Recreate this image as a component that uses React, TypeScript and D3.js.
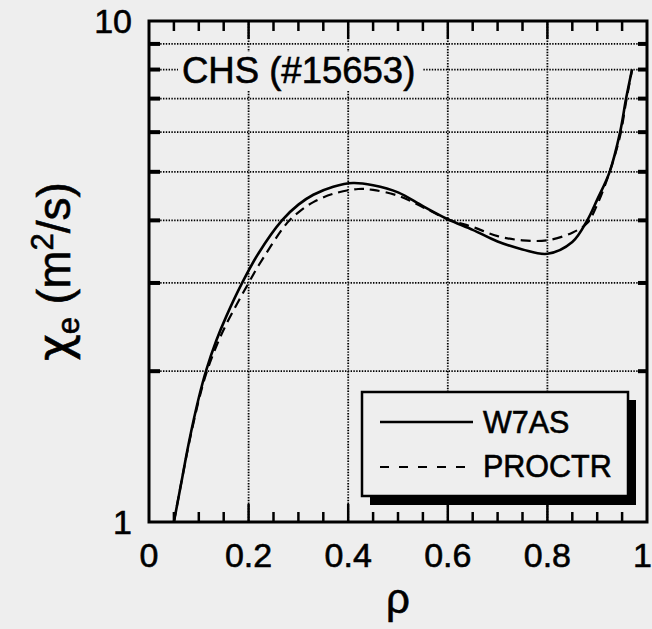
import React from "react";
import * as d3 from "d3";

const rhoW7AS = [0.05, 0.065, 0.08, 0.1, 0.115, 0.135, 0.155, 0.187, 0.22, 0.267, 0.3, 0.33, 0.37, 0.41, 0.45, 0.5, 0.55, 0.6, 0.65, 0.7, 0.75, 0.8, 0.85, 0.88, 0.9, 0.925, 0.946, 0.958, 0.97];
const chiW7AS = [1.0, 1.2, 1.44, 1.77, 2.01, 2.3, 2.57, 3.0, 3.44, 4.0, 4.3, 4.5, 4.67, 4.75, 4.7, 4.55, 4.27, 4.02, 3.83, 3.63, 3.5, 3.43, 3.62, 4.0, 4.4, 5.0, 6.0, 7.0, 8.0];
const rhoPROCTR = [0.05, 0.065, 0.08, 0.1, 0.115, 0.135, 0.155, 0.2, 0.22, 0.277, 0.3, 0.33, 0.37, 0.42, 0.45, 0.5, 0.55, 0.6, 0.65, 0.7, 0.75, 0.8, 0.85, 0.88, 0.9, 0.925, 0.946, 0.958, 0.97];
const chiPROCTR = [1.0, 1.2, 1.43, 1.75, 1.98, 2.24, 2.48, 3.0, 3.25, 3.95, 4.15, 4.35, 4.52, 4.62, 4.6, 4.48, 4.25, 4.02, 3.88, 3.72, 3.65, 3.65, 3.78, 3.95, 4.3, 5.0, 5.9, 6.9, 8.0];

const xTickLabels = ["0", "0.2", "0.4", "0.6", "0.8", "1"];
const xTickValues = [0, 0.2, 0.4, 0.6, 0.8, 1];
const yTickLabels = ["1", "10"];
const yTickValues = [1, 10];
const yGridValues = [2, 3, 4, 5, 6, 7, 8, 9];
const xGridValues = [0.2, 0.4, 0.6, 0.8];
const seriesNames = ["W7AS", "PROCTR"];
const title = "CHS (#15653)";

const W = 652, H = 629;
const L = 149, R = 647, T = 21, B = 522;
const FONT = "'Liberation Sans', Arial, Helvetica, sans-serif";
const BG = "#eeeeee";
const TS = { stroke: "#000", strokeWidth: 0.6 };

export default function App() {
  const x = d3.scaleLinear().domain([0, 1]).range([L, R]);
  const y = d3.scaleLog().domain([1, 10]).range([B, T]);
  const line = d3.line<[number, number]>().x(d => x(d[0])).y(d => y(d[1])).curve(d3.curveCatmullRom.alpha(0.5));
  const w7 = line(rhoW7AS.map((r, i) => [r, chiW7AS[i]]) as [number, number][]) || "";
  const pr = line(rhoPROCTR.map((r, i) => [r, chiPROCTR[i]]) as [number, number][]) || "";
  const minor = d3.range(1, 20).map(i => i * 0.05);

  return (
    <svg width={W} height={H} style={{ position: "absolute", left: 0, top: 0 }} fontFamily={FONT}>
      <rect x={0} y={0} width={W} height={H} fill={BG} />
      {/* grid */}
      {xGridValues.map(v => (
        <line key={"gx" + v} x1={x(v)} x2={x(v)} y1={T} y2={B} stroke="#000" strokeWidth={1.8} strokeDasharray="1.4 1.4" />
      ))}
      {yGridValues.map(v => (
        <line key={"gy" + v} x1={L} x2={R} y1={y(v)} y2={y(v)} stroke="#000" strokeWidth={1.8} strokeDasharray="1.4 1.4" />
      ))}
      {/* title box */}
      <rect x={178} y={52} width={244} height={38} fill={BG} />
      <text x={182} y={83} fontSize={36.5} fill="#000" {...TS}>{title}</text>
      {/* ticks bottom/top */}
      {minor.map(v => {
        const major = Math.abs(v / 0.2 - Math.round(v / 0.2)) < 1e-6;
        const len = major ? 18 : 10;
        return (
          <g key={"t" + v}>
            <line x1={x(v)} x2={x(v)} y1={B} y2={B - len} stroke="#000" strokeWidth={2.5} />
            <line x1={x(v)} x2={x(v)} y1={T} y2={T + len} stroke="#000" strokeWidth={2.5} />
          </g>
        );
      })}
      {yGridValues.map(v => (
        <g key={"yt" + v}>
          <line x1={L} x2={L + 11} y1={y(v)} y2={y(v)} stroke="#000" strokeWidth={4} />
          <line x1={R} x2={R - 9} y1={y(v)} y2={y(v)} stroke="#000" strokeWidth={4} />
        </g>
      ))}
      {/* curves */}
      <path d={w7} fill="none" stroke="#000" strokeWidth={2.6} />
      <path d={pr} fill="none" stroke="#000" strokeWidth={2.2} strokeDasharray="10 6" />
      {/* frame */}
      <rect x={L} y={T} width={R - L} height={B - T} fill="none" stroke="#000" strokeWidth={3} />
      {/* legend */}
      <rect x={370} y={400} width={266} height={105} fill="#000" />
      <rect x={362} y={392} width={266} height={104} fill={BG} stroke="#000" strokeWidth={2.5} />
      <line x1={380} x2={473} y1={422} y2={422} stroke="#000" strokeWidth={2.6} />
      <line x1={380} x2={473} y1={467} y2={467} stroke="#000" strokeWidth={2.2} strokeDasharray="9 10" />
      <text x={483} y={433} fontSize={30.5} fill="#000" {...TS}>{seriesNames[0]}</text>
      <text x={483} y={477} fontSize={30.5} fill="#000" {...TS}>{seriesNames[1]}</text>
      {/* x tick labels */}
      {xTickValues.map((v, i) => (
        <text key={"xl" + v} x={i === xTickValues.length - 1 ? 652 : x(v)} y={567} fontSize={34}
          textAnchor={i === xTickValues.length - 1 ? "end" : "middle"} fill="#000" {...TS}>{xTickLabels[i]}</text>
      ))}
      {/* y tick labels */}
      {yTickValues.map((v, i) => (
        <text key={"yl" + v} x={132} y={y(v) + 12} fontSize={34} textAnchor="end" fill="#000" {...TS}>{yTickLabels[i]}</text>
      ))}
      {/* axis titles */}
      <text x={(L + R) / 2} y={613} fontSize={42} textAnchor="middle" fill="#000" {...TS}>ρ</text>
      <text transform={`translate(70,${(T + B) / 2}) rotate(-90)`} fontSize={46} textAnchor="middle" fill="#000" {...TS}>
        <tspan fontFamily="'DejaVu Sans', sans-serif">χ</tspan>
        <tspan fontSize={31} dy={9}>e</tspan>
        <tspan dy={-9}> (m</tspan>
        <tspan fontSize={31} dy={-17}>2</tspan>
        <tspan dy={17}>/s)</tspan>
      </text>
    </svg>
  );
}
